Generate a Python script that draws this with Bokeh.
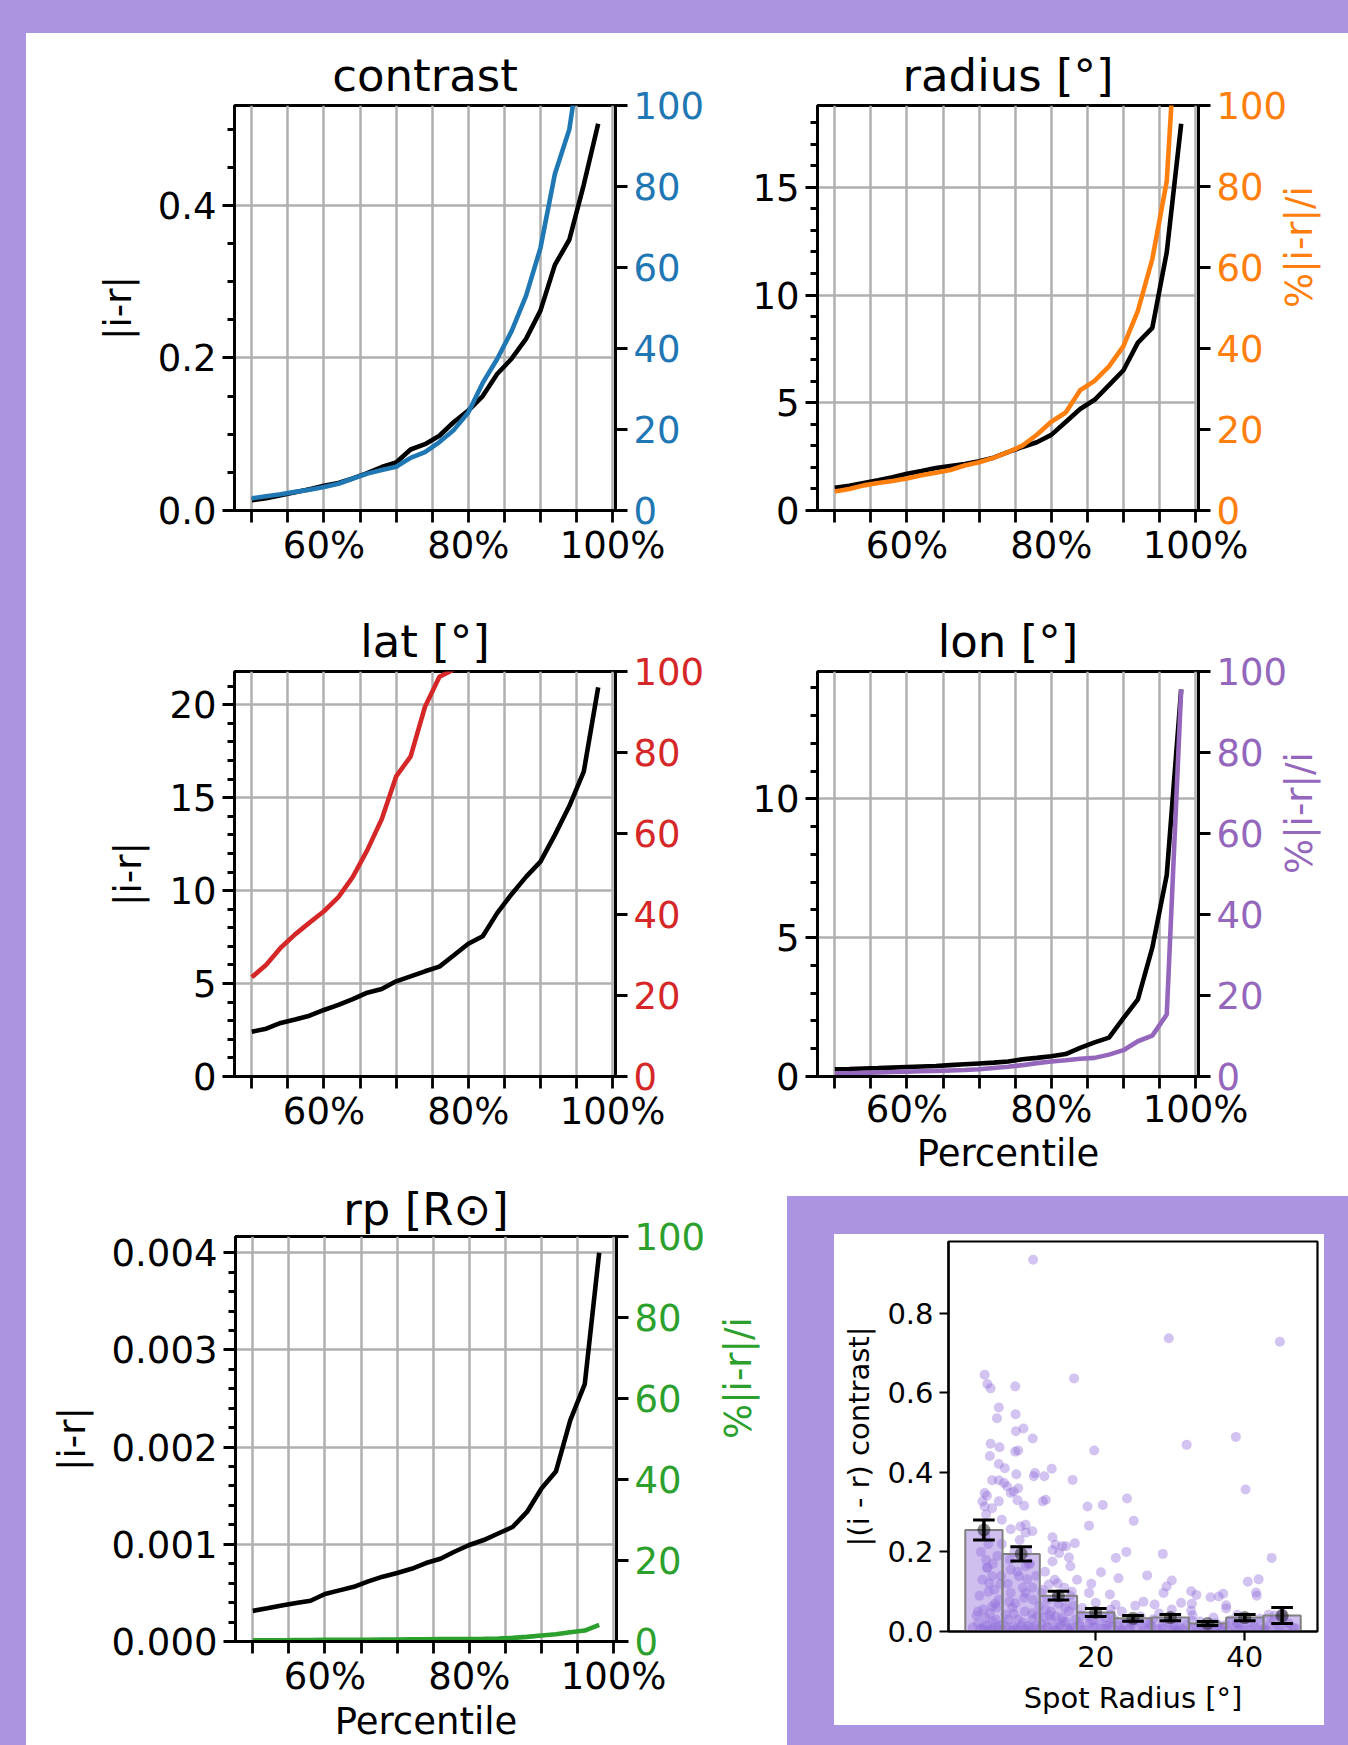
import math
from bokeh.plotting import figure
from bokeh.models import (Range1d, LinearAxis, FixedTicker, NumeralTickFormatter,
                          PrintfTickFormatter, Div)
from bokeh.layouts import row, column
from bokeh.embed import file_html
from bokeh.resources import INLINE

# ---------------- data ----------------
percentile = [50, 52, 54, 56, 58, 60, 62, 64, 66, 68, 70, 72, 74, 76, 78, 80,
              82, 84, 86, 88, 90, 92, 94, 96, 98]
NaN = float("nan")

contrast_abs = [0.0136, 0.016, 0.020, 0.024, 0.028, 0.0325, 0.036, 0.042, 0.049, 0.057,
                0.063, 0.080, 0.087, 0.098, 0.116, 0.131, 0.150, 0.179, 0.199, 0.225,
                0.262, 0.322, 0.355, 0.427, 0.507]
contrast_pct = [3.0, 3.5, 4.0, 4.6, 5.1, 5.8, 6.6, 7.9, 9.1, 10.0, 10.8, 13.0, 14.4, 16.9,
                19.9, 24.2, 31.5, 37.4, 44.3, 53.0, 64.8, 83.1, 94.1, 118.0, NaN]

radius_abs = [1.06, 1.15, 1.28, 1.40, 1.54, 1.71, 1.83, 1.97, 2.07, 2.16, 2.29, 2.45, 2.71,
              2.95, 3.17, 3.51, 4.11, 4.71, 5.14, 5.82, 6.51, 7.79, 8.48, 11.99, 17.95]
radius_pct = [4.7, 5.3, 6.2, 6.8, 7.3, 7.9, 8.7, 9.3, 10.0, 11.1, 11.9, 13.0, 14.4, 16.0,
              18.7, 21.9, 24.2, 29.7, 32.0, 35.6, 40.6, 49.3, 62.1, 81.3, 140.0]

lat_abs = [2.41, 2.57, 2.88, 3.07, 3.27, 3.58, 3.85, 4.16, 4.51, 4.71, 5.12, 5.39, 5.66,
           5.91, 6.52, 7.14, 7.55, 8.79, 9.81, 10.74, 11.56, 13.00, 14.55, 16.40, 20.93]
lat_pct = [24.5, 27.6, 31.8, 35.1, 38.0, 40.8, 44.3, 49.3, 55.9, 63.5, 74.1, 79.0, 91.3,
           98.7, 100.5, NaN, NaN, NaN, NaN, NaN, NaN, NaN, NaN, NaN, NaN]

lon_abs = [0.26, 0.27, 0.29, 0.30, 0.32, 0.34, 0.36, 0.38, 0.41, 0.44, 0.47, 0.50, 0.54,
           0.62, 0.67, 0.73, 0.81, 1.03, 1.23, 1.40, 2.10, 2.78, 4.64, 7.26, 13.94]
lon_pct = [0.7, 0.8, 0.9, 1.0, 1.1, 1.2, 1.3, 1.4, 1.5, 1.6, 1.8, 2.1, 2.4, 2.8, 3.3, 3.7,
           4.0, 4.4, 4.6, 5.4, 6.5, 8.7, 10.1, 15.3, 95.6]

rp_abs = [0.000315, 0.000341, 0.000370, 0.000396, 0.000419, 0.000489, 0.000526, 0.000563,
          0.000619, 0.000667, 0.000704, 0.000748, 0.000807, 0.000852, 0.000926, 0.000993,
          0.001044, 0.001111, 0.001178, 0.001333, 0.001574, 0.001748, 0.002278, 0.002648,
          0.004000]
rp_pct = [0.3, 0.3, 0.3, 0.35, 0.35, 0.4, 0.4, 0.45, 0.45, 0.5, 0.5, 0.55, 0.55, 0.6, 0.6,
          0.6, 0.66, 0.74, 0.9, 1.15, 1.5, 1.8, 2.3, 2.7, 4.1]

# inset: binned means of |(i - r) contrast| vs spot radius
bin_centers = [5, 10, 15, 20, 25, 30, 35, 40, 45]
bin_means = [0.255, 0.195, 0.090, 0.048, 0.033, 0.035, 0.020, 0.035, 0.040]
bin_errs = [0.025, 0.018, 0.011, 0.010, 0.007, 0.008, 0.005, 0.008, 0.020]

spot_radius = [
    11.6, 5.1, 5.47, 5.9, 9.2, 17.1, 7.0, 6.75, 9.25, 10.3, 9.3, 11.55, 29.8, 44.7, 38.8,
    19.8, 32.2, 40.1, 20.95, 24.2, 25.1, 24.1, 22.7, 29.0, 43.6, 20.7, 23.05, 26.9, 30.2,
    29.5, 29.1, 41.85, 41.5, 41.6, 21.9, 32.8, 33.5, 36.5, 37.1, 37.5, 20.0, 22.65, 26.4,
    27.9, 31.45, 32.8, 30.2, 22.0, 23.5, 25.3, 43.2, 45.0, 21.3,
    5.9, 7.1, 9.2, 9.6, 5.8, 7.0, 7.8, 9.35, 11.85, 13.1, 14.1, 16.9, 6.1, 7.0, 7.7, 8.1,
    9.6, 9.0, 8.6, 5.1, 5.4, 4.8, 7.0, 9.5, 10.4, 12.9, 13.3, 5.1, 6.1, 18.9, 19.1, 5.3,
    7.4, 8.6, 9.9, 10.6, 11.5, 10.6, 14.2, 14.6, 15.5, 16.0, 17.2, 14.2, 15.1, 16.4, 14.2,
    16.6, 17.5, 14.9, 13.7, 12.8, 19.1, 5.4, 6.1, 5.7, 6.4, 8.6, 9.7, 10.6, 10.8, 11.5,
    8.6, 9.2, 10.6, 7.0, 6.1, 5.2, 6.6, 7.9, 11.5, 13.3, 14.6, 16.4, 18.2, 19.1, 11.7,
    19.4, 32.9, 35.4, 37.5, 40.4,
    5.2, 5.6, 4.6, 5.3, 6.2, 4.8, 5.6, 4.4, 6.5, 4.2, 5.8, 7.2, 7.4, 6.8,
    9.8, 10.8, 8.5, 11.2, 9.5, 12.0, 8.2, 10.2, 11.6, 8.8, 10.5, 12.2, 9.6,
    13.2, 14.5, 15.8, 16.6, 13.5, 15.0, 17.0, 13.8, 15.5,
    3.5, 4.2, 4.8, 5.5, 6.2, 6.9, 7.6, 8.3, 8.9, 9.6, 10.2, 10.9, 11.5, 12.1, 12.8, 13.4,
    14.1, 14.7, 15.3, 16.0, 16.6, 17.3, 17.9, 18.6, 19.2, 19.9, 20.5, 21.2, 21.8, 22.5,
    23.1, 23.8, 24.4, 25.1, 25.7, 26.4, 27.0, 27.7, 28.3, 29.0, 29.6, 30.3, 30.9, 31.6,
    32.2, 32.9, 33.5, 34.2, 34.8, 35.5, 36.1, 36.8, 37.4, 38.1, 38.7, 39.4, 40.0, 40.7,
    41.3, 42.0, 42.6, 43.3, 43.9, 44.6, 45.2, 45.9, 46.5, 4.0, 9.0, 13.0, 18.0, 22.0,
    26.0, 28.5, 33.0, 35.8, 39.0, 44.0, 6.0, 11.0, 16.5, 23.5, 31.0, 37.0, 42.5,
    15.6, 17.8, 19.5, 21.5, 24.8, 27.3, 30.6, 34.0, 36.4, 38.9,
    4.5, 5.0, 5.7, 6.3, 7.0, 7.5, 8.0, 8.7, 9.3, 10.0, 10.6, 11.3, 12.0, 12.6, 13.6, 14.4,
    15.0, 16.2, 17.0, 18.3, 19.6, 20.8, 22.2, 23.3, 24.6, 26.2, 27.5, 28.9, 30.1, 31.3,
    32.6, 33.8, 35.1, 36.3, 37.8, 39.2, 40.5, 41.7, 43.0, 44.3, 45.6, 46.8,
    4.9, 6.7, 8.4, 10.4, 12.4, 14.0, 15.9, 5.5, 7.3, 9.1, 11.0, 12.9, 14.8, 16.8,
]
contrast_diff = [
    0.934, 0.645, 0.622, 0.611, 0.616, 0.636, 0.563, 0.536, 0.546, 0.51, 0.503, 0.485,
    0.737, 0.728, 0.489, 0.455, 0.469, 0.357, 0.318, 0.334, 0.278, 0.2, 0.185, 0.195,
    0.185, 0.149, 0.134, 0.141, 0.128, 0.113, 0.097, 0.131, 0.098, 0.09, 0.093, 0.101,
    0.092, 0.088, 0.095, 0.058, 0.072, 0.067, 0.075, 0.068, 0.072, 0.052, 0.055, 0.055,
    0.05, 0.065, 0.042, 0.045, 0.035,
    0.472, 0.463, 0.452, 0.455, 0.441, 0.421, 0.41, 0.395, 0.398, 0.39, 0.409, 0.381,
    0.38, 0.38, 0.373, 0.365, 0.36, 0.352, 0.348, 0.348, 0.341, 0.327, 0.327, 0.33,
    0.316, 0.327, 0.331, 0.314, 0.31, 0.314, 0.266, 0.294, 0.281, 0.257, 0.264, 0.268,
    0.252, 0.248, 0.237, 0.218, 0.214, 0.214, 0.222, 0.205, 0.197, 0.186, 0.176, 0.164,
    0.13, 0.121, 0.118, 0.097, 0.097, 0.16, 0.139, 0.121, 0.105, 0.155, 0.139, 0.164,
    0.131, 0.11, 0.097, 0.071, 0.097, 0.08, 0.063, 0.034, 0.03, 0.042, 0.046, 0.055,
    0.038, 0.051, 0.059, 0.038, 0.39,
    0.12, 0.07, 0.086, 0.066, 0.125,
    0.24, 0.22, 0.2, 0.18, 0.17, 0.13, 0.1, 0.09, 0.07, 0.05, 0.045, 0.12, 0.22, 0.19,
    0.23, 0.2, 0.18, 0.17, 0.15, 0.14, 0.12, 0.11, 0.08, 0.06, 0.05, 0.04, 0.03,
    0.15, 0.13, 0.11, 0.09, 0.08, 0.07, 0.065, 0.04, 0.035,
    0.01, 0.02, 0.005, 0.015, 0.025, 0.008, 0.018, 0.03, 0.012, 0.004, 0.022, 0.014, 0.03,
    0.006, 0.02, 0.012, 0.028, 0.005, 0.017, 0.024, 0.009, 0.03, 0.014, 0.004, 0.022,
    0.011, 0.027, 0.007, 0.018, 0.03, 0.012, 0.021, 0.004, 0.016, 0.026, 0.009, 0.019,
    0.031, 0.006, 0.014, 0.024, 0.01, 0.033, 0.005, 0.018, 0.027, 0.008, 0.015, 0.004,
    0.012, 0.021, 0.007, 0.016, 0.028, 0.01, 0.019, 0.005, 0.024, 0.013, 0.032, 0.008,
    0.018, 0.027, 0.011, 0.035, 0.02, 0.009, 0.04, 0.045, 0.035, 0.04, 0.042, 0.038,
    0.045, 0.04, 0.035, 0.042, 0.04, 0.003, 0.002, 0.002, 0.002, 0.002, 0.002, 0.003,
    0.025, 0.02, 0.028, 0.015, 0.022, 0.018, 0.012, 0.025, 0.016, 0.02,
    0.006, 0.012, 0.003, 0.009, 0.014, 0.004, 0.011, 0.002, 0.007, 0.013, 0.003, 0.008,
    0.015, 0.005, 0.01, 0.003, 0.012, 0.006, 0.009, 0.003, 0.011, 0.006, 0.013, 0.004,
    0.009, 0.002, 0.012, 0.007, 0.004, 0.01, 0.003, 0.008, 0.005, 0.011, 0.003, 0.007,
    0.004, 0.009, 0.002, 0.006, 0.004, 0.008,
    0.055, 0.06, 0.075, 0.085, 0.065, 0.05, 0.06, 0.16, 0.14, 0.2, 0.17, 0.105, 0.09, 0.1,
]

x_major = [60, 80, 100]
x_minor = [50, 55, 65, 70, 75, 85, 90, 95]
x_grid = [50, 55, 60, 65, 70, 75, 80, 85, 90, 95, 100]
pct_ticks = [0, 20, 40, 60, 80, 100]

# ---------------- style ----------------
BG = "#ab94e2"
FONT = "DejaVu Sans"
FS = "37px"
TFS = "45px"
LW_AX = 2.8
LW_LINE = 4.6


def style_axis(ax, fs, tick_out, minor_out, label_color="black"):
    ax.major_label_text_font = FONT
    ax.major_label_text_font_size = fs
    ax.major_label_text_color = label_color
    ax.axis_label_text_font = FONT
    ax.axis_label_text_font_size = fs
    ax.axis_label_text_font_style = "normal"
    ax.axis_label_text_color = label_color
    ax.axis_line_width = LW_AX
    ax.axis_line_color = "black"
    ax.major_tick_line_width = LW_AX
    ax.minor_tick_line_width = LW_AX
    ax.major_tick_line_color = "black"
    ax.minor_tick_line_color = "black"
    ax.major_tick_in = 0
    ax.minor_tick_in = 0
    ax.major_tick_out = tick_out
    ax.minor_tick_out = minor_out
    ax.major_label_standoff = 6
    ax.axis_label_standoff = 8


def panel(title, y_abs, y_pct, color, y_top, y_major, y_minor, y_fmt,
          w, h, bl, br, bt, bb, left_so, right_so, x_label,
          title_so=8, xtick_so=1, xlab_so=4):
    p = figure(width=w, height=h, x_range=Range1d(47.6, 100.4),
               y_range=Range1d(0, y_top), output_backend="svg",
               toolbar_location=None, title=title,
               min_border_left=bl, min_border_right=br,
               min_border_top=bt, min_border_bottom=bb)
    p.extra_y_ranges = {"pct": Range1d(0, 100)}
    p.background_fill_color = "white"
    p.border_fill_color = "white"
    p.outline_line_color = "black"
    p.outline_line_width = LW_AX
    p.title.text_font = FONT
    p.title.text_font_size = TFS
    p.title.text_font_style = "normal"
    p.title.text_color = "black"
    p.title.align = "center"
    p.title.standoff = title_so

    xa = p.xaxis[0]
    xa.ticker = FixedTicker(ticks=x_major, minor_ticks=x_minor)
    xa.formatter = PrintfTickFormatter(format="%d%%")
    style_axis(xa, FS, 12, 12)
    xa.major_label_standoff = xtick_so
    if x_label:
        xa.axis_label = x_label
        xa.axis_label_standoff = xlab_so

    ya = p.yaxis[0]
    ya.ticker = FixedTicker(ticks=y_major, minor_ticks=y_minor)
    ya.formatter = NumeralTickFormatter(format=y_fmt)
    style_axis(ya, FS, 12, 7)
    if left_so is not None:
        ya.axis_label = "|i-r|"
        ya.axis_label_standoff = left_so

    ra = LinearAxis(y_range_name="pct",
                    ticker=FixedTicker(ticks=pct_ticks, minor_ticks=[]))
    style_axis(ra, FS, 12, 0, label_color=color)
    if right_so is not None:
        ra.axis_label = "%|i-r|/i"
        ra.axis_label_standoff = right_so
        try:
            ra.axis_label_orientation = math.pi / 2
        except Exception:
            pass
    p.add_layout(ra, "right")

    p.xgrid.ticker = FixedTicker(ticks=x_grid)
    p.ygrid.ticker = FixedTicker(ticks=y_major)
    for g in (p.xgrid[0], p.ygrid[0]):
        g.grid_line_color = "#b0b0b0"
        g.grid_line_width = 2.5

    p.line(percentile, y_abs, line_color="black", line_width=LW_LINE)
    p.line(percentile, y_pct, line_color=color, line_width=LW_LINE, y_range_name="pct")
    return p


# rows: 33-590, 590-1177, 1177-1745
p1 = panel("contrast", contrast_abs, contrast_pct, "#1f77b4", 0.531,
           [0.0, 0.2, 0.4], [0.05, 0.1, 0.15, 0.25, 0.3, 0.35, 0.45, 0.5], "0.0",
           704, 557, 208, 115, 72, 80, 15, None, None)
p2 = panel("radius [°]", radius_abs, radius_pct, "#ff7f0e", 18.8,
           [0, 5, 10, 15], [1, 2, 3, 4, 6, 7, 8, 9, 11, 12, 13, 14, 16, 17, 18], "0",
           618, 557, 87, 150, 72, 80, None, 9, None)
p3 = panel("lat [°]", lat_abs, lat_pct, "#d62728", 21.79,
           [0, 5, 10, 15, 20], [1, 2, 3, 4, 6, 7, 8, 9, 11, 12, 13, 14, 16, 17, 18, 19, 21],
           "0", 704, 587, 208, 115, 81, 101, 16, None, None)
p4 = panel("lon [°]", lon_abs, lon_pct, "#9467bd", 14.59,
           [0, 5, 10], [1, 2, 3, 4, 6, 7, 8, 9, 11, 12, 13, 14], "0",
           618, 587, 87, 150, 81, 101, None, 9, "Percentile",
           xtick_so=-1, xlab_so=-2)
p5 = panel("rp [R⊙]", rp_abs, rp_pct, "#2ca02c", 0.004167,
           [0.0, 0.001, 0.002, 0.003, 0.004],
           [0.0002, 0.0004, 0.0006, 0.0008, 0.0012, 0.0014, 0.0016, 0.0018,
            0.0022, 0.0024, 0.0026, 0.0028, 0.0032, 0.0034, 0.0036, 0.0038, 0.0042],
           "0.000", 761, 568, 209, 171, 59, 104, 15, 30, "Percentile",
           title_so=2, xtick_so=1, xlab_so=-1)

# ---------------- inset ----------------
IFS = "29px"
pi = figure(width=490, height=491, x_range=Range1d(0.25, 49.75),
            y_range=Range1d(0, 0.98), output_backend="svg", toolbar_location=None,
            min_border_left=114, min_border_right=7, min_border_top=7,
            min_border_bottom=94)
pi.background_fill_color = "white"
pi.border_fill_color = "white"
pi.outline_line_color = "black"
pi.outline_line_width = 2.2
pi.xgrid.visible = False
pi.ygrid.visible = False
xa = pi.xaxis[0]
xa.ticker = FixedTicker(ticks=[20, 40], minor_ticks=[])
style_axis(xa, IFS, 9, 0)
xa.axis_line_width = 2.2
xa.major_tick_line_width = 2.2
xa.axis_label = "Spot Radius [°]"
xa.major_label_standoff = 5
xa.axis_label_standoff = 11
ya = pi.yaxis[0]
ya.ticker = FixedTicker(ticks=[0.0, 0.2, 0.4, 0.6, 0.8], minor_ticks=[])
ya.formatter = NumeralTickFormatter(format="0.0")
style_axis(ya, IFS, 9, 0)
ya.axis_line_width = 2.2
ya.major_tick_line_width = 2.2
ya.axis_label = "|(i - r) contrast|"
ya.axis_label_standoff = 8

pi.scatter(spot_radius, contrast_diff, size=10, fill_color="#9370db", fill_alpha=0.42,
           line_color=None)
pi.vbar(x=bin_centers, width=5, top=bin_means, fill_color="#9370db", fill_alpha=0.45,
        line_color="#808080", line_width=2)
lo = [m - e for m, e in zip(bin_means, bin_errs)]
hi = [m + e for m, e in zip(bin_means, bin_errs)]
pi.segment(x0=bin_centers, y0=lo, x1=bin_centers, y1=hi, line_color="black", line_width=3.5)
cap_l = [c - 1.45 for c in bin_centers]
cap_r = [c + 1.45 for c in bin_centers]
pi.segment(x0=cap_l, y0=lo, x1=cap_r, y1=lo, line_color="black", line_width=3)
pi.segment(x0=cap_l, y0=hi, x1=cap_r, y1=hi, line_color="black", line_width=3)
pi.scatter(bin_centers, bin_means, size=13, fill_color="black", fill_alpha=0.45,
           line_color=None)


def block(w, h, color):
    return Div(text="", width=w, height=h, margin=(0, 0, 0, 0),
               styles={"background-color": color})


inset_block = column(
    block(561, 19, "white"),
    row(block(47, 549, BG),
        column(block(490, 38, BG), pi, block(490, 20, BG), spacing=0),
        block(24, 549, BG), spacing=0),
    spacing=0)

grid = column(row(p1, p2, spacing=0), row(p3, p4, spacing=0),
              row(p5, inset_block, spacing=0), spacing=0)
layout = column(block(1348, 33, BG), row(block(26, 1712, BG), grid, spacing=0), spacing=0)

open("out.html", "w").write(file_html(layout, INLINE))
